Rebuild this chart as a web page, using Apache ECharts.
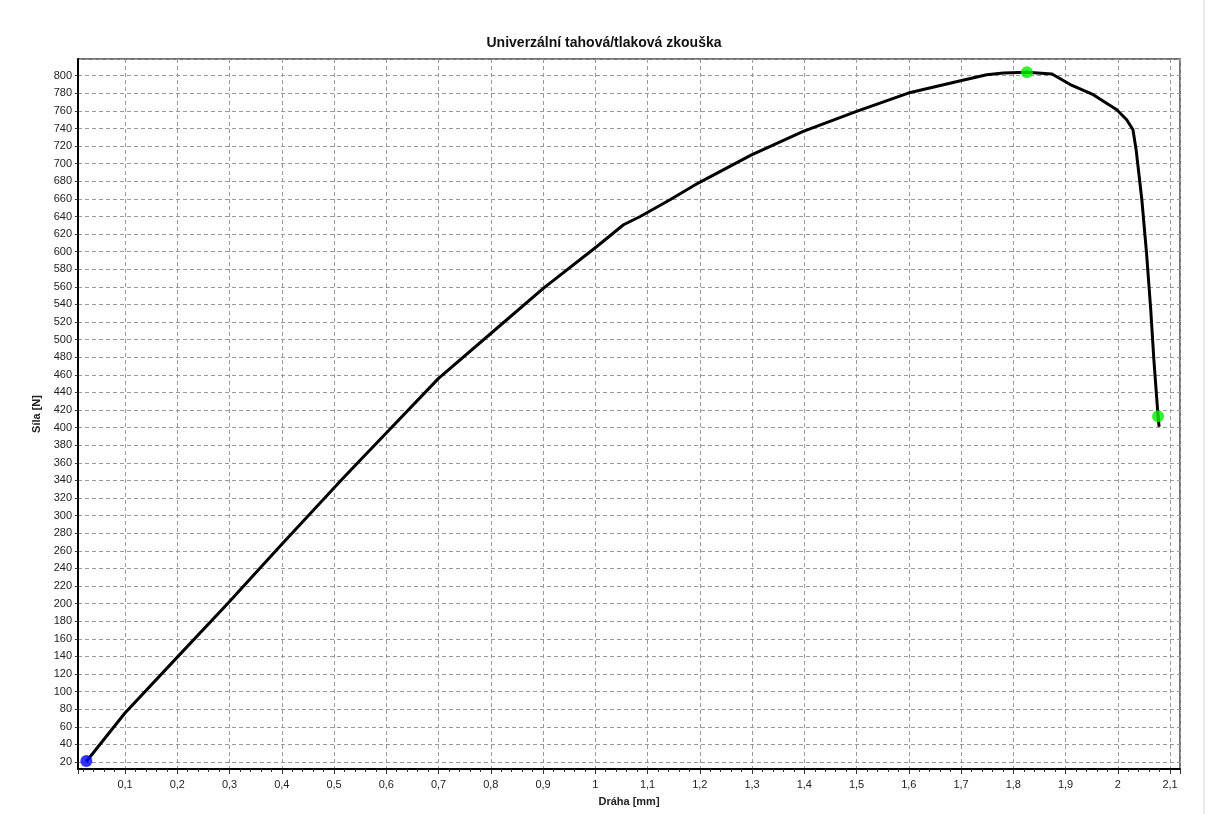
<!DOCTYPE html>
<html lang="cs">
<head>
    <meta charset="UTF-8">
    <title>Univerzální tahová/tlaková zkouška</title>
    <script src="https://cdn.jsdelivr.net/npm/echarts@6/dist/echarts.min.js"></script>
    <style>
        body,
        html {
            padding: 0;
            margin: 0;
            background: #fff;
        }
    </style>
</head>
<body>
    <div style="width:1208px;height:814px;" id='chart'></div>
    <script>
        // draha [mm] / sila [N]
        var draha = [0.026, 0.0995, 0.201, 0.297, 0.393, 0.514, 0.55, 0.60, 0.70, 0.80, 0.901,
            1.003, 1.054, 1.086, 1.143, 1.197, 1.299, 1.398, 1.500, 1.599, 1.697,
            1.749, 1.781, 1.826, 1.874, 1.909, 1.953, 1.998, 2.017, 2.029, 2.035,
            2.046, 2.055, 2.063, 2.069, 2.077, 2.079];
        var sila = [20.5, 75.4, 139.7, 200.4, 263, 340.6, 363, 394, 456, 507, 558.6,
            605.9, 630.6, 640, 659, 678, 710, 736.7, 759.4, 780.3, 794,
            801, 803, 804, 802, 790, 778.4, 761.3, 750, 738.6, 716,
            659, 598, 534, 477, 413, 401];

        // highlighted points
        var startPoint = [0.026, 21];
        var maxPoint = [1.826, 804];
        var breakPoint = [2.077, 413];

        var xMin = 0.01, xMax = 2.119, xStep = 0.1;
        var yMin = 12, yMax = 819, yStep = 20;

        var curve = draha.map(function (x, i) { return [x, sila[i]]; });

        var font = 'Liberation Sans, Arial, sans-serif';

        var myChart = echarts.init(document.getElementById('chart'), null, { renderer: 'canvas' });
        myChart.setOption({
            backgroundColor: '#fff',
            animation: false,
            title: {
                text: 'Univerzální tahová/tlaková zkouška',
                left: 'center',
                top: 31,
                textStyle: { fontFamily: font, fontSize: 14, fontWeight: 'bold', color: '#111' }
            },
            grid: {
                left: 78, right: 28, top: 59, bottom: 45,
                show: true,
                borderColor: '#444',
                borderWidth: 1.5,
                backgroundColor: '#fff'
            },
            xAxis: {
                type: 'value',
                min: xMin, max: xMax,
                minInterval: xStep, maxInterval: xStep,
                splitNumber: 21,
                name: 'Dráha [mm]',
                nameLocation: 'middle',
                nameGap: 27,
                nameTextStyle: { fontFamily: font, fontSize: 11, fontWeight: 'bold', color: '#222' },
                axisLine: { show: true, onZero: false, lineStyle: { color: '#000', width: 2 } },
                axisTick: { show: true, length: 5, lineStyle: { color: '#333' } },
                minorTick: { show: true, splitNumber: 5, length: 3, lineStyle: { color: '#333' } },
                axisLabel: {
                    showMinLabel: false, showMaxLabel: false,
                    margin: 10,
                    fontFamily: font, fontSize: 11, color: '#222',
                    formatter: function (v) { return String(+v.toFixed(2)).replace('.', ','); }
                },
                splitLine: { show: true, lineStyle: { type: [4, 3], color: '#9a9a9a' } }
            },
            yAxis: {
                type: 'value',
                min: yMin, max: yMax,
                minInterval: yStep, maxInterval: yStep,
                splitNumber: 40,
                name: 'Síla [N]',
                nameLocation: 'middle',
                nameGap: 32,
                nameTextStyle: { fontFamily: font, fontSize: 11, fontWeight: 'bold', color: '#222' },
                axisLine: { show: true, onZero: false, lineStyle: { color: '#000', width: 2 } },
                axisTick: { show: true, length: 3, lineStyle: { color: '#333' } },
                axisLabel: {
                    showMinLabel: false, showMaxLabel: false,
                    margin: 6,
                    fontFamily: font, fontSize: 11, color: '#222'
                },
                splitLine: { show: true, lineStyle: { type: [4, 3], color: '#9a9a9a' } }
            },
            series: [{
                type: 'line',
                data: curve,
                showSymbol: false,
                smooth: false,
                lineStyle: { color: '#000', width: 3, join: 'round' },
                silent: true,
                z: 2
            }, {
                type: 'scatter',
                symbolSize: 12,
                data: [
                    { value: startPoint, itemStyle: { color: '#0000ff' } },
                    { value: maxPoint, itemStyle: { color: '#00f000' } },
                    { value: breakPoint, itemStyle: { color: '#00f000' } }
                ],
                silent: true,
                z: 10
            }],
            graphic: [{
                type: 'line',
                shape: { x1: 1204, y1: 0, x2: 1204, y2: 814 },
                style: { stroke: '#d8d8d8', lineWidth: 1 }
            }]
        });
    </script>
</body>
</html>
